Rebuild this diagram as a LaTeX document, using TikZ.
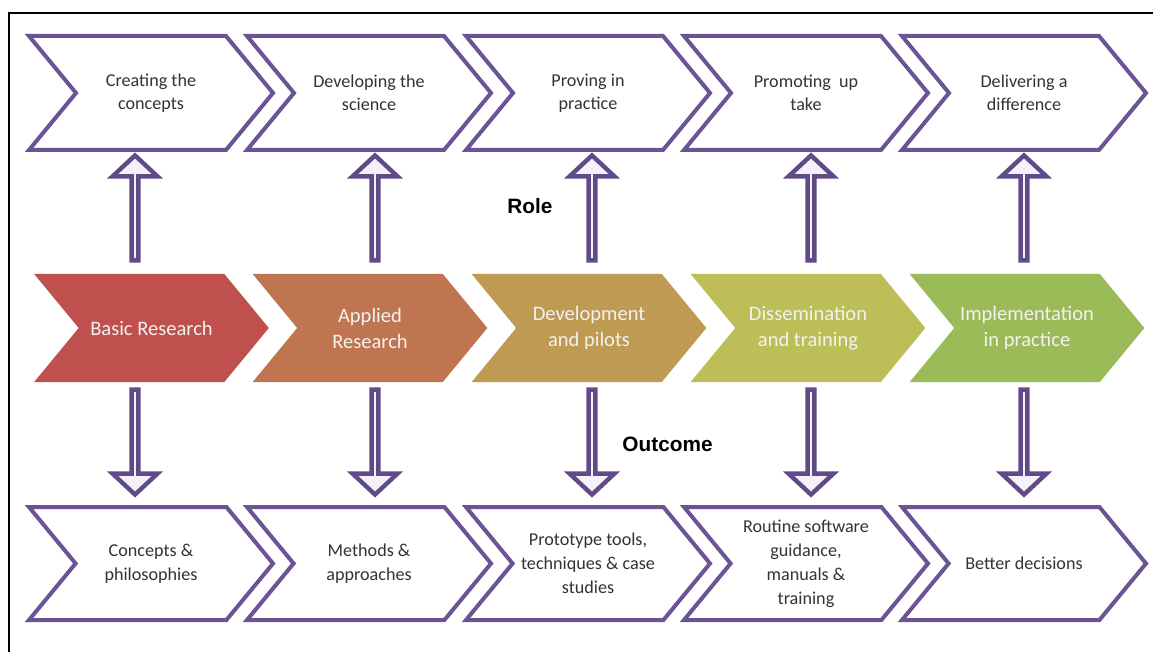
\documentclass[tikz,border=0pt]{standalone}
\usepackage{fontspec}
\setmainfont{Carlito}
\newfontfamily\tagfont{Liberation Sans}
\usetikzlibrary{shapes.symbols,shapes.arrows}

\definecolor{chevline}{RGB}{107,84,149}
\definecolor{arrline}{RGB}{96,75,136}
\definecolor{arrfill}{RGB}{244,241,248}
\definecolor{basic}{RGB}{192,80,77}
\definecolor{applied}{RGB}{191,118,80}
\definecolor{develop}{RGB}{190,154,83}
\definecolor{dissem}{RGB}{190,190,89}
\definecolor{implem}{RGB}{155,187,89}

\begin{document}
\begin{tikzpicture}[x=0.75pt,y=-0.75pt,
    chev/.style={signal,signal from=west,signal to=east,signal pointer angle=101,
        inner sep=0pt,align=center},
    rolebox/.style={chev,draw=chevline,line width=3pt,fill=white,
        minimum width=183pt,minimum height=85.5pt,text=black!80,
        font=\fontsize{13.6}{17.3}\selectfont},
    outbox/.style={rolebox,minimum height=84.75pt,font=\fontsize{13.6}{18}\selectfont},
    stage/.style={chev,fill=#1,minimum width=176pt,minimum height=81pt,
        text=white!95!black,font=\fontsize{15.4}{19.5}\selectfont},
    blockarrow/.style={single arrow,draw=arrline,fill=arrfill,line width=3.3pt,
        minimum height=78.75pt,minimum width=33.75pt,single arrow head extend=9.4pt,
        single arrow tip angle=94,inner sep=0pt},
    uparrow/.style={blockarrow,rotate=90},
    downarrow/.style={blockarrow,rotate=-90},
    tag/.style={font=\tagfont\bfseries\fontsize{15.6}{18}\selectfont}]
    \useasboundingbox (0,0) rectangle (1153,652);
    \draw[line width=1pt] (9,652) -- (9,13) -- (1153,13);

    % what each stage does
    \draw (151,93) node[rolebox] (role1) {Creating the\\concepts};
    \draw (369,93) node[rolebox] (role2) {Developing the\\science};
    \draw (588,93) node[rolebox] (role3) {Proving in\\practice};
    \draw (806,93) node[rolebox] (role4) {Promoting\ \ up\\take};
    \draw (1024,93) node[rolebox] (role5) {Delivering a\\difference};

    % the stages
    \draw (151.5,328) node[stage=basic] (stage1) {Basic Research};
    \draw (370,328) node[stage=applied] (stage2) {Applied\\Research};
    \draw (589,328) node[stage=develop] (stage3) {Development\\and pilots};
    \draw (808,328) node[stage=dissem] (stage4) {Dissemination\\and training};
    \draw (1027,328) node[stage=implem] (stage5) {Implementation\\in practice};

    % what comes out of each
    \draw (151,563.5) node[outbox] (out1) {Concepts \&\\philosophies};
    \draw (369,563.5) node[outbox] (out2) {Methods \&\\approaches};
    \draw (588,563.5) node[outbox] (out3) {Prototype tools,\\techniques \& case\\studies};
    \draw (806,563.5) node[outbox] (out4) {Routine software\\guidance,\\manuals \&\\training};
    \draw (1024,563.5) node[outbox] (out5) {Better decisions};

    \draw (135,209.5) node[uparrow] (up1) {};
    \draw (375,209.5) node[uparrow] (up2) {};
    \draw (592,209.5) node[uparrow] (up3) {};
    \draw (811,209.5) node[uparrow] (up4) {};
    \draw (1024,209.5) node[uparrow] (up5) {};

    \draw (135,440.5) node[downarrow] (down1) {};
    \draw (375,440.5) node[downarrow] (down2) {};
    \draw (592,440.5) node[downarrow] (down3) {};
    \draw (811,440.5) node[downarrow] (down4) {};
    \draw (1024,440.5) node[downarrow] (down5) {};

    \draw (530,206) node[tag] (rolelabel) {Role};
    \draw (599.5,444) node[tag,fill=white,anchor=west,inner xsep=17pt,
        minimum height=31pt] (outlabel) {Outcome};
\end{tikzpicture}
\end{document}
